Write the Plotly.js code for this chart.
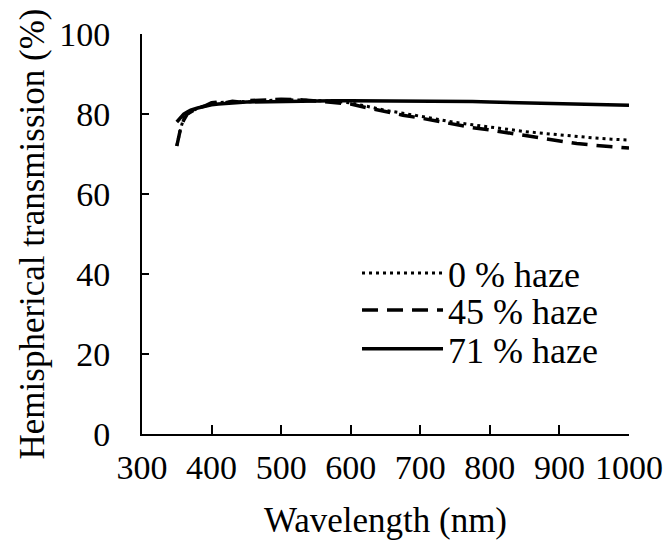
<!DOCTYPE html>
<html>
<head>
<meta charset="utf-8">
<script src="https://cdn.plot.ly/plotly-3.0.1.min.js"></script>
<style>html,body{margin:0;padding:0;background:#fff;}#chart{width:668px;height:551px;}</style>
</head>
<body>
<div id="chart"></div>
<script>
const wavelength = [350,355,360,365,370,380,390,400,410,420,430,440,450,475,500,525,550,575,600,625,650,675,700,725,750,775,800,825,850,875,900,925,950,975,1000];
const haze0  = [72,76,79,80,80.5,81.5,82,82.5,82.8,83,82.8,83.2,83,83.3,83.6,83.5,83.4,83.2,82.8,81.8,80.9,80.2,79.4,78.6,77.9,77.3,76.8,76.2,75.6,75.2,74.8,74.3,74,73.7,73.5];
const haze45 = [72,76,78.5,80,80.5,81.5,82,82.8,83,82.8,83.2,83,83.3,83.5,83.7,83.6,83.3,83,82.5,81.5,80.5,79.7,79,78.2,77.3,76.6,76,75.3,74.6,73.9,73.3,72.6,72.2,71.8,71.5];
const haze71 = [78,79,80,80.5,81,81.5,82,82.3,82.5,82.7,82.8,82.9,83,83.1,83.2,83.3,83.3,83.3,83.3,83.3,83.3,83.3,83.3,83.2,83.1,83.1,83,82.9,82.8,82.7,82.6,82.5,82.4,82.3,82.2];
const seriesNames = ["0 % haze", "45 % haze", "71 % haze"];
const xTicks = [300,400,500,600,700,800,900,1000];
const yTicks = [0,20,40,60,80,100];

const font = "Liberation Serif, Times New Roman, serif";
const traces = [
  {x: wavelength, y: haze0, name: seriesNames[0], legend: "legend", mode: "lines", line: {color: "#000", width: 3, dash: "3px,4px"}},
  {x: wavelength, y: haze45, name: seriesNames[1], legend: "legend2", mode: "lines", line: {color: "#000", width: 3.5, dash: "16px,9px"}},
  {x: wavelength, y: haze71, name: seriesNames[2], legend: "legend3", mode: "lines", line: {color: "#000", width: 3.5}}
];
function leg(y) {
  return {x: 0.4415, y: y, xanchor: "left", yanchor: "middle", bgcolor: "rgba(0,0,0,0)",
          font: {family: font, size: 36, color: "#000"}, itemwidth: 81};
}
const layout = {
  width: 668, height: 551,
  margin: {l: 142, r: 39, t: 34, b: 117},
  paper_bgcolor: "#fff", plot_bgcolor: "#fff",
  font: {family: font, size: 34, color: "#000"},
  showlegend: true,
  legend: leg(0.4025),
  legend2: leg(0.31),
  legend3: leg(0.213),
  xaxis: {range: [300, 1000], tickvals: xTicks, ticktext: xTicks.map(String),
          showline: true, linecolor: "#000", linewidth: 2, ticks: "inside", ticklen: 9, tickwidth: 2, tickcolor: "#000",
          showgrid: false, zeroline: false, ticklabelstandoff: 2,
          tickfont: {family: font, size: 34, color: "#000"},
          title: {text: "Wavelength (nm)", font: {family: font, size: 35, color: "#000"}, standoff: 23}},
  yaxis: {range: [0, 100], tickvals: yTicks, ticktext: yTicks.map(String),
          showline: true, linecolor: "#000", linewidth: 2, ticks: "inside", ticklen: 7, tickwidth: 2, tickcolor: "#000",
          showgrid: false, zeroline: false, ticklabelstandoff: 23,
          tickfont: {family: font, size: 34, color: "#000"},
          title: {text: "Hemispherical transmission (%)", font: {family: font, size: 35, color: "#000"}, standoff: 4}}
};
Plotly.newPlot("chart", traces, layout, {displayModeBar: false, staticPlot: true});
</script>
</body>
</html>
